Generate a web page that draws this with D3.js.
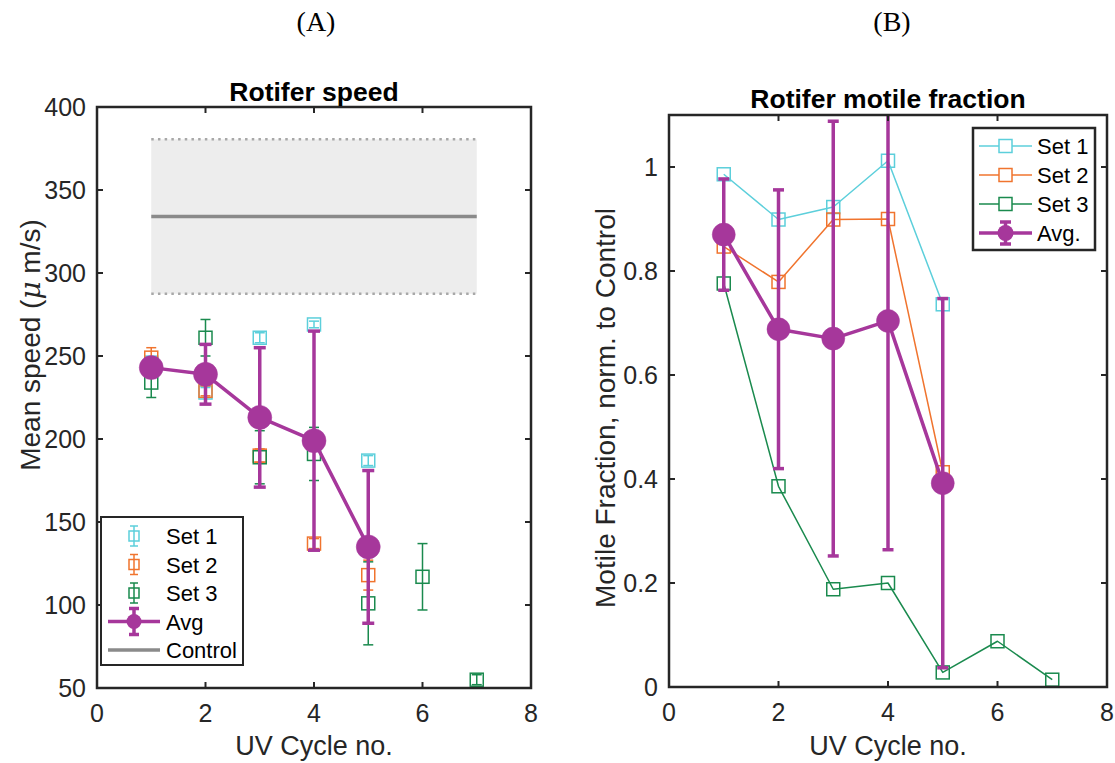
<!DOCTYPE html>
<html><head><meta charset="utf-8">
<script src="https://cdn.jsdelivr.net/npm/d3@7"></script>
<style>body{margin:0;background:#fff}svg{display:block}text{font-family:"Liberation Sans",Arial,sans-serif;fill:#262626}</style>
</head><body>
<svg id="c" width="1115" height="763"></svg>
<script>
// ---------- Data ----------
const xTicks = [0, 2, 4, 6, 8];
const speedTicks = [50, 100, 150, 200, 250, 300, 350, 400];
const fracTicks = [0, 0.2, 0.4, 0.6, 0.8, 1];
const fracTickLabels = ["0", "0.2", "0.4", "0.6", "0.8", "1"];

// Panel A: Rotifer speed (errorbar points)
const speedSet1X = [1, 2, 3, 4, 5];
const speedSet1 = [246, 228, 261, 269, 187];
const speedSet1Err = [3, 3, 3, 2, 3];
const speedSet2X = [1, 2, 3, 4, 5];
const speedSet2 = [249, 229, 190, 137, 118];
const speedSet2Err = [6, 3, 4, 3, 9];
const speedSet3X = [1, 2, 3, 4, 5, 6, 7];
const speedSet3 = [234, 261, 189, 191, 101, 117, 55];
const speedSet3Err = [9, 11, 16, 16, 25, 20, 3];
const speedAvgX = [1, 2, 3, 4, 5];
const speedAvg = [243, 239, 213, 199, 135];
const speedAvgErr = [4, 18, 42, 66, 46];
const controlX = [1, 7];
const controlMean = 334;
const controlSD = 46.5;

// Panel B: Motile fraction normalised to control
const fracSet1X = [1, 2, 3, 4, 5];
const fracSet1 = [0.986, 0.899, 0.923, 1.012, 0.736];
const fracSet2X = [1, 2, 3, 4, 5];
const fracSet2 = [0.847, 0.779, 0.899, 0.900, 0.413];
const fracSet3X = [1, 2, 3, 4, 5, 6, 7];
const fracSet3 = [0.776, 0.386, 0.188, 0.200, 0.028, 0.088, 0.014];
const fracAvgX = [1, 2, 3, 4, 5];
const fracAvg = [0.870, 0.688, 0.670, 0.704, 0.392];
const fracAvgErr = [0.107, 0.268, 0.418, 0.440, 0.355];

const seriesNamesA = ["Set 1", "Set 2", "Set 3", "Avg", "Control"];
const seriesNamesB = ["Set 1", "Set 2", "Set 3", "Avg."];

// ---------- Styles ----------
const C1 = "#5CCFDB", C2 = "#F0742E", C3 = "#1A8A4E", CA = "#A6379B", CC = "#8a8a8a", AX = "#262626";

const svg = d3.select("#c");

function zip(xs, ys, es) { return xs.map((x, i) => ({x, y: ys[i], e: es ? es[i] : 0})); }

function axesBox(g, x, y, yTickVals, yTickFmt) {
  const [x0, x1] = x.range(), [y0, y1] = y.range();
  const tl = 6;
  const t = g.append("g");
  xTicks.forEach(v => {
    t.append("line").attr("x1", x(v)).attr("x2", x(v)).attr("y1", y0).attr("y2", y0 - tl).attr("stroke", AX).attr("stroke-width", 2);
    t.append("line").attr("x1", x(v)).attr("x2", x(v)).attr("y1", y1).attr("y2", y1 + tl).attr("stroke", AX).attr("stroke-width", 2);
    t.append("text").attr("x", x(v)).attr("y", y0 + 34).attr("text-anchor", "middle").attr("font-size", 25).text(v);
  });
  yTickVals.forEach((v, i) => {
    t.append("line").attr("x1", x0).attr("x2", x0 + tl).attr("y1", y(v)).attr("y2", y(v)).attr("stroke", AX).attr("stroke-width", 2);
    t.append("line").attr("x1", x1).attr("x2", x1 - tl).attr("y1", y(v)).attr("y2", y(v)).attr("stroke", AX).attr("stroke-width", 2);
    t.append("text").attr("x", x0 - 11).attr("y", y(v) + 9).attr("text-anchor", "end").attr("font-size", 25).text(yTickFmt(v, i));
  });
  t.append("rect").attr("x", x0).attr("y", y1).attr("width", x1 - x0).attr("height", y0 - y1)
    .attr("fill", "none").attr("stroke", AX).attr("stroke-width", 2.5);
}

function errBars(g, data, x, y, color, sw, cap) {
  const gg = g.append("g").attr("stroke", color).attr("stroke-width", sw);
  data.forEach(d => {
    gg.append("line").attr("x1", x(d.x)).attr("x2", x(d.x)).attr("y1", y(d.y - d.e)).attr("y2", y(d.y + d.e));
    gg.append("line").attr("x1", x(d.x) - cap).attr("x2", x(d.x) + cap).attr("y1", y(d.y - d.e)).attr("y2", y(d.y - d.e));
    gg.append("line").attr("x1", x(d.x) - cap).attr("x2", x(d.x) + cap).attr("y1", y(d.y + d.e)).attr("y2", y(d.y + d.e));
  });
}
function squares(g, data, x, y, color, s) {
  g.append("g").selectAll("rect").data(data).join("rect")
    .attr("x", d => x(d.x) - s / 2).attr("y", d => y(d.y) - s / 2).attr("width", s).attr("height", s)
    .attr("fill", "none").attr("stroke", color).attr("stroke-width", 1.5);
}
function circles(g, data, x, y, color, r) {
  g.append("g").selectAll("circle").data(data).join("circle")
    .attr("cx", d => x(d.x)).attr("cy", d => y(d.y)).attr("r", r).attr("fill", color).attr("stroke", color).attr("stroke-opacity", 0.5);
}
function line(g, data, x, y, color, w) {
  g.append("path").datum(data).attr("d", d3.line().x(d => x(d.x)).y(d => y(d.y)))
    .attr("fill", "none").attr("stroke", color).attr("stroke-width", w).attr("stroke-linejoin", "round");
}

// Panel labels
svg.append("text").attr("x", 316).attr("y", 31).attr("text-anchor", "middle").attr("font-size", 28)
  .style("font-family", "'Liberation Serif','Times New Roman',serif").style("fill", "#000").text("(A)");
svg.append("text").attr("x", 892).attr("y", 31).attr("text-anchor", "middle").attr("font-size", 28)
  .style("font-family", "'Liberation Serif','Times New Roman',serif").style("fill", "#000").text("(B)");

// ---------- Panel A ----------
{
  const x = d3.scaleLinear().domain([0, 8]).range([97, 531]);
  const y = d3.scaleLinear().domain([50, 400]).range([688, 107]);
  const g = svg.append("g");
  // control band
  g.append("rect").attr("x", x(controlX[0])).attr("width", x(controlX[1]) - x(controlX[0]))
    .attr("y", y(controlMean + controlSD)).attr("height", y(controlMean - controlSD) - y(controlMean + controlSD)).attr("fill", "#ededed");
  [controlMean + controlSD, controlMean - controlSD].forEach(v => {
    g.append("line").attr("x1", x(controlX[0])).attr("x2", x(controlX[1])).attr("y1", y(v)).attr("y2", y(v))
      .attr("stroke", "#a8a8a8").attr("stroke-width", 2.5).attr("stroke-dasharray", "2.5,4.2");
  });
  g.append("line").attr("x1", x(controlX[0])).attr("x2", x(controlX[1])).attr("y1", y(controlMean)).attr("y2", y(controlMean))
    .attr("stroke", CC).attr("stroke-width", 3.5);

  const s1 = zip(speedSet1X, speedSet1, speedSet1Err), s2 = zip(speedSet2X, speedSet2, speedSet2Err), s3 = zip(speedSet3X, speedSet3, speedSet3Err);
  const av = zip(speedAvgX, speedAvg, speedAvgErr);
  [[s1, C1], [s2, C2], [s3, C3]].forEach(([d, c]) => { errBars(g, d, x, y, c, 1.5, 5); squares(g, d, x, y, c, 13); });
  errBars(g, av, x, y, CA, 3.5, 6);
  line(g, av, x, y, CA, 3.5);
  circles(g, av, x, y, CA, 12);

  axesBox(g, x, y, speedTicks, v => v);
  g.append("text").attr("x", 314).attr("y", 101).attr("text-anchor", "middle").attr("font-size", 26.5).attr("font-weight", "bold").style("fill", "#000").text("Rotifer speed");
  g.append("text").attr("x", 314).attr("y", 755).attr("text-anchor", "middle").attr("font-size", 27).text("UV Cycle no.");
  const yl = g.append("text").attr("transform", "translate(40,345) rotate(-90)").attr("text-anchor", "middle").attr("font-size", 28);
  yl.append("tspan").text("Mean speed (");
  yl.append("tspan").attr("font-style", "italic").style("font-family", "'DejaVu Serif','Liberation Serif',serif").text("μ");
  yl.append("tspan").text(" m/s)");

  // legend
  const lg = g.append("g");
  lg.append("rect").attr("x", 101).attr("y", 517).attr("width", 142).attr("height", 148).attr("fill", "#fff").attr("stroke", AX).attr("stroke-width", 2);
  const rows = [536, 564.5, 593, 621.5, 650];
  const cols = [C1, C2, C3];
  cols.forEach((c, i) => {
    const cy = rows[i];
    const e = lg.append("g").attr("stroke", c).attr("stroke-width", 1.5);
    e.append("line").attr("x1", 134).attr("x2", 134).attr("y1", cy - 10).attr("y2", cy + 10);
    e.append("line").attr("x1", 130).attr("x2", 138).attr("y1", cy - 10).attr("y2", cy - 10);
    e.append("line").attr("x1", 130).attr("x2", 138).attr("y1", cy + 10).attr("y2", cy + 10);
    e.append("rect").attr("x", 129).attr("y", cy - 5).attr("width", 10).attr("height", 10).attr("fill", "none");
  });
  {
    const cy = rows[3];
    lg.append("line").attr("x1", 108).attr("x2", 160).attr("y1", cy).attr("y2", cy).attr("stroke", CA).attr("stroke-width", 3.5);
    lg.append("line").attr("x1", 134).attr("x2", 134).attr("y1", cy - 13).attr("y2", cy + 13).attr("stroke", CA).attr("stroke-width", 3.5);
    lg.append("line").attr("x1", 129).attr("x2", 139).attr("y1", cy - 13).attr("y2", cy - 13).attr("stroke", CA).attr("stroke-width", 3.5);
    lg.append("line").attr("x1", 129).attr("x2", 139).attr("y1", cy + 13).attr("y2", cy + 13).attr("stroke", CA).attr("stroke-width", 3.5);
    lg.append("circle").attr("cx", 134).attr("cy", cy).attr("r", 7.5).attr("fill", CA);
    lg.append("line").attr("x1", 108).attr("x2", 160).attr("y1", rows[4]).attr("y2", rows[4]).attr("stroke", CC).attr("stroke-width", 3.5);
  }
  seriesNamesA.forEach((n, i) => lg.append("text").attr("x", 166).attr("y", rows[i] + 8).attr("font-size", 22).style("fill", "#000").text(n));
}

// ---------- Panel B ----------
{
  const x = d3.scaleLinear().domain([0, 8]).range([669, 1107]);
  const y = d3.scaleLinear().domain([0, 1.1]).range([687, 115]);
  const g = svg.append("g");
  svg.append("defs").append("clipPath").attr("id", "clipB").append("rect")
    .attr("x", 669).attr("y", 115).attr("width", 438).attr("height", 572);
  const pg = g.append("g").attr("clip-path", "url(#clipB)");
  const f1 = zip(fracSet1X, fracSet1), f2 = zip(fracSet2X, fracSet2), f3 = zip(fracSet3X, fracSet3);
  const av = zip(fracAvgX, fracAvg, fracAvgErr);
  [[f1, C1], [f2, C2], [f3, C3]].forEach(([d, c]) => { line(pg, d, x, y, c, 1.5); squares(pg, d, x, y, c, 13); });
  errBars(pg, av, x, y, CA, 3.5, 5.5);
  line(pg, av, x, y, CA, 3.5);
  circles(pg, av, x, y, CA, 11.5);

  axesBox(g, x, y, fracTicks, (v, i) => fracTickLabels[i]);
  g.append("text").attr("x", 888).attr("y", 108).attr("text-anchor", "middle").attr("font-size", 26.5).attr("font-weight", "bold").style("fill", "#000").text("Rotifer motile fraction");
  g.append("text").attr("x", 888).attr("y", 755).attr("text-anchor", "middle").attr("font-size", 27).text("UV Cycle no.");
  g.append("text").attr("transform", "translate(615,408) rotate(-90)").attr("text-anchor", "middle").attr("font-size", 28).text("Motile Fraction, norm. to Control");

  const lg = g.append("g");
  lg.append("rect").attr("x", 973).attr("y", 128).attr("width", 122).attr("height", 122).attr("fill", "#fff").attr("stroke", AX).attr("stroke-width", 2.5);
  const rows = [146, 175, 204, 233];
  [C1, C2, C3].forEach((c, i) => {
    lg.append("line").attr("x1", 979).attr("x2", 1032).attr("y1", rows[i]).attr("y2", rows[i]).attr("stroke", c).attr("stroke-width", 1.5);
    lg.append("rect").attr("x", 999).attr("y", rows[i] - 6.5).attr("width", 13).attr("height", 13).attr("fill", "#fff").attr("stroke", c).attr("stroke-width", 1.5);
  });
  const cy = rows[3];
  lg.append("line").attr("x1", 979).attr("x2", 1032).attr("y1", cy).attr("y2", cy).attr("stroke", CA).attr("stroke-width", 3.5);
  lg.append("line").attr("x1", 1005.5).attr("x2", 1005.5).attr("y1", cy - 11).attr("y2", cy + 11).attr("stroke", CA).attr("stroke-width", 3.5);
  lg.append("line").attr("x1", 1000).attr("x2", 1011).attr("y1", cy - 11).attr("y2", cy - 11).attr("stroke", CA).attr("stroke-width", 3.5);
  lg.append("line").attr("x1", 1000).attr("x2", 1011).attr("y1", cy + 11).attr("y2", cy + 11).attr("stroke", CA).attr("stroke-width", 3.5);
  lg.append("circle").attr("cx", 1005.5).attr("cy", cy).attr("r", 8).attr("fill", CA);
  seriesNamesB.forEach((n, i) => lg.append("text").attr("x", 1037).attr("y", rows[i] + 8).attr("font-size", 22).style("fill", "#000").text(n));
}
</script>
</body></html>
